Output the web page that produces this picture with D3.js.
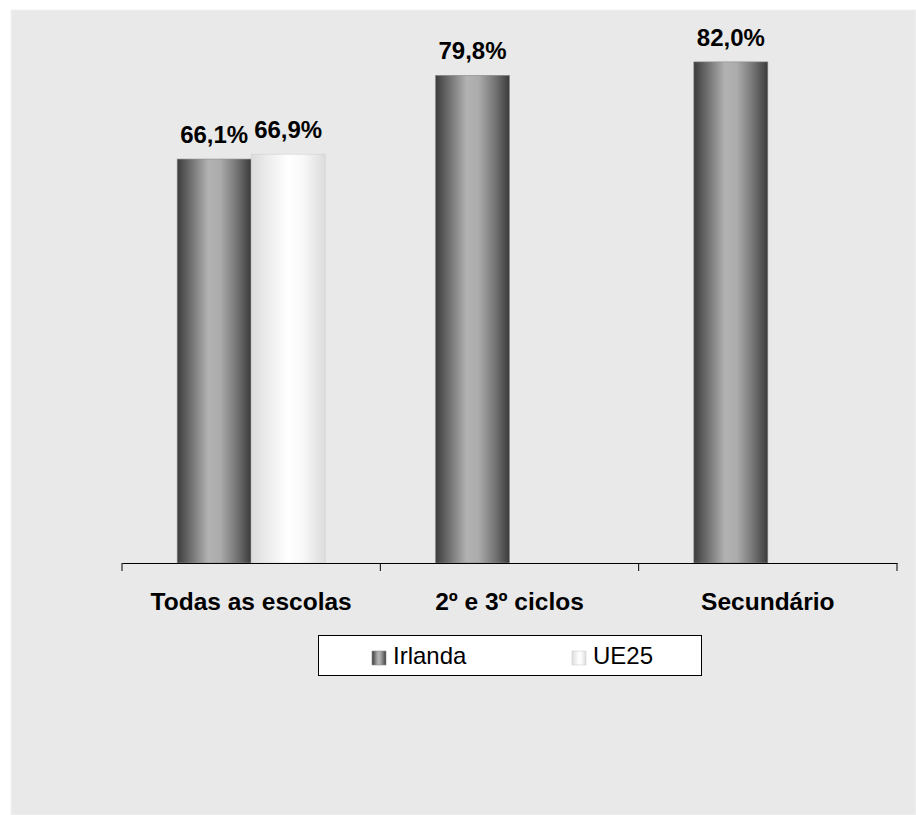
<!DOCTYPE html>
<html>
<head>
<meta charset="utf-8">
<script src="https://cdn.jsdelivr.net/npm/d3@7"></script>
<style>
  html, body { margin: 0; padding: 0; background: #ffffff; }
  svg { display: block; }
  text { font-family: "Liberation Sans", Arial, sans-serif; }
</style>
</head>
<body>
<svg id="chart" width="916" height="815"></svg>
<script>
// Chart data
const categories = ["Todas as escolas", "2º e 3º ciclos", "Secundário"];
const seriesNames = ["Irlanda", "UE25"];
const irlandaValues = [66.1, 79.8, 82.0];
const ue25Values = [66.9, null, null];

const W = 916, H = 815;
const svg = d3.select("#chart");

// Panel background
svg.append("rect").attr("x", 11).attr("y", 10).attr("width", W - 11).attr("height", H - 10)
  .attr("fill", "#e9e9e9").attr("stroke", "#f2f2f2").attr("stroke-width", 1);

// Gradients giving a cylindrical shading
const defs = svg.append("defs");
function makeGrad(id, stops) {
  const g = defs.append("linearGradient").attr("id", id)
    .attr("x1", "0%").attr("x2", "100%").attr("y1", "0%").attr("y2", "0%");
  stops.forEach(([o, c]) => g.append("stop").attr("offset", o).attr("stop-color", c));
}
makeGrad("gIrl", [["0%", "#3c3c3c"], ["18%", "#6e6e6e"], ["42%", "#b2b2b2"], ["58%", "#acacac"], ["82%", "#707070"], ["100%", "#3a3a3a"]]);
makeGrad("gUE", [["0%", "#dcdcdc"], ["25%", "#eeeeee"], ["50%", "#ffffff"], ["70%", "#f8f8f8"], ["100%", "#dcdcdc"]]);
const fills = ["url(#gIrl)", "url(#gUE)"];

// Scales
const x0 = d3.scaleBand().domain(categories).range([122, 897]).paddingInner(0).paddingOuter(0);
const x1 = d3.scaleBand().domain(seriesNames).range([0, 148]);
const y = d3.scaleLinear().domain([0, 90]).range([563, 13]);

const rows = categories.map((c, i) => ({ cat: c, vals: [irlandaValues[i], ue25Values[i]] }));

const groups = svg.append("g").selectAll("g").data(rows).join("g")
  .attr("transform", d => `translate(${x0(d.cat) + x0.bandwidth() / 2 - 74},0)`);

const cells = groups.selectAll("g.cell")
  .data(d => d.vals.map((v, k) => ({ v, k })).filter(e => e.v != null))
  .join("g").attr("class", "cell");

cells.append("rect")
  .attr("x", e => x1(seriesNames[e.k]))
  .attr("y", e => y(e.v))
  .attr("width", x1.bandwidth())
  .attr("height", e => y(0) - y(e.v))
  .attr("fill", e => fills[e.k])
  .attr("stroke", e => e.k === 0 ? "#8a8a8a" : "#d0d0d0")
  .attr("stroke-width", 0.6);

cells.append("text")
  .attr("x", e => x1(seriesNames[e.k]) + x1.bandwidth() / 2)
  .attr("y", e => y(e.v) - 16)
  .attr("text-anchor", "middle")
  .attr("font-weight", "bold")
  .attr("font-size", 24)
  .attr("fill", "#000")
  .text(e => e.v.toFixed(1).replace(".", ",") + "%");

// Category axis
const axis = d3.axisBottom(x0).tickSize(0).tickFormat("");
const axG = svg.append("g").attr("transform", `translate(0,${y(0)})`).call(axis);
axG.select(".domain").attr("stroke", "#000").attr("stroke-width", 1.2);
const boundaries = [122, ...categories.map(c => x0(c) + x0.bandwidth())];
axG.selectAll("line.bnd").data(boundaries).join("line").attr("class", "bnd")
  .attr("x1", d => d).attr("x2", d => d).attr("y1", 0).attr("y2", 8)
  .attr("stroke", "#000").attr("stroke-width", 1);

svg.append("g").selectAll("text").data(categories).join("text")
  .attr("x", d => x0(d) + x0.bandwidth() / 2)
  .attr("y", 610)
  .attr("text-anchor", "middle")
  .attr("font-weight", "bold")
  .attr("font-size", 24.5)
  .attr("fill", "#000")
  .text(d => d);

// Legend
const leg = svg.append("g");
leg.append("rect").attr("x", 318.5).attr("y", 635.5).attr("width", 383).attr("height", 40)
  .attr("fill", "#fff").attr("stroke", "#000").attr("stroke-width", 1);
const legX = [372, 572];
seriesNames.forEach((s, k) => {
  leg.append("rect").attr("x", legX[k]).attr("y", 651).attr("width", 14).attr("height", 14)
    .attr("fill", fills[k]).attr("stroke", k === 0 ? "#8a8a8a" : "#d0d0d0").attr("stroke-width", 0.6);
  leg.append("text").attr("x", legX[k] + 21).attr("y", 664)
    .attr("font-size", 24).attr("fill", "#000").text(s);
});
</script>
</body>
</html>
